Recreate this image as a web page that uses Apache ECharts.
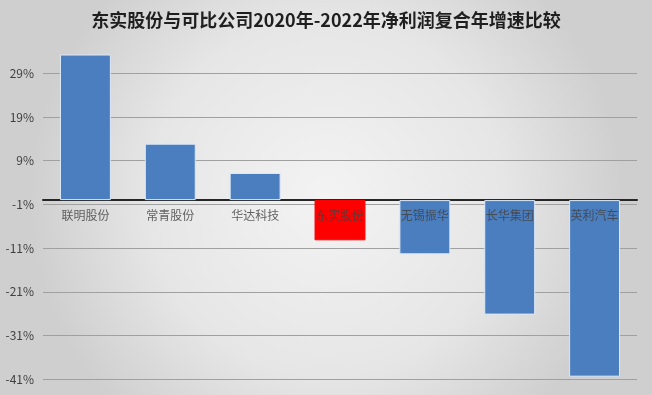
<!DOCTYPE html>
<html><head><meta charset="utf-8">
<script src="https://cdn.jsdelivr.net/npm/echarts@6/dist/echarts.min.js"></script>
<style>html,body{margin:0;padding:0;}#c{width:652px;height:395px;}</style>
</head><body><div id="c"></div>
<script>
const titleText = '东实股份与可比公司2020年-2022年净利润复合年增速比较';
const categories = ['联明股份','常青股份','华达科技','东实股份','无锡振华','长华集团','英利汽车'];
const values = [33.3, 12.9, 6.2, -9.2, -12.4, -26.2, -40.4];
const highlightName = '东实股份';
const yMin = -41, yMax = 35, yStep = 10;

const chart = echarts.init(document.getElementById('c'), null, {renderer:'canvas'});
chart.setOption({
  backgroundColor: {
    type:'radial', x:0.5, y:0.5, r:0.75,
    colorStops:[{offset:0,color:'#f3f3f3'},{offset:0.6,color:'#e6e6e6'},{offset:1,color:'#cfcfcf'}]
  },
  title:{
    text:titleText, left:'center', top:6,
    textStyle:{fontFamily:'Noto Sans CJK SC', fontSize:18, fontWeight:'bold', color:'#1f1f1f'}
  },
  grid:{left:43, right:15, top:47.1, bottom:15.7, containLabel:false, outerBoundsMode:'none'},
  xAxis:{
    type:'category', data:categories,
    axisLine:{onZero:true, lineStyle:{color:'#262626', width:2}},
    axisTick:{show:false},
    axisLabel:{show:false}
  },
  yAxis:{
    type:'value', min:yMin, max:yMax, interval:yStep,
    axisLine:{show:false}, axisTick:{show:false},
    axisLabel:{showMaxLabel:false, fontFamily:'Noto Sans CJK SC', fontSize:12, color:'#404040', margin:9,
      formatter:v=>v+'%'},
    splitLine:{showMaxLine:false, lineStyle:{color:'#a0a0a0', width:1}}
  },
  series:[{
    type:'bar', barCategoryGap:'40%',
    data: values.map((v,i)=>({value:v, itemStyle:{color: categories[i]===highlightName ? '#ff0000' : '#4a7ebf',
      borderColor: categories[i]===highlightName ? '#ff0000' : '#dce8f6', borderWidth:1}})),
    z:1
  },{
    type:'scatter', symbolSize:0, z:5, silent:true,
    data: categories.map(c=>[c,0]),
    label:{show:true, position:'bottom', distance:9, formatter:p=>p.data[0],
      fontFamily:'Noto Sans CJK SC', fontSize:12, color:'#404040'}
  }],
  animation:false
});
</script></body></html>
